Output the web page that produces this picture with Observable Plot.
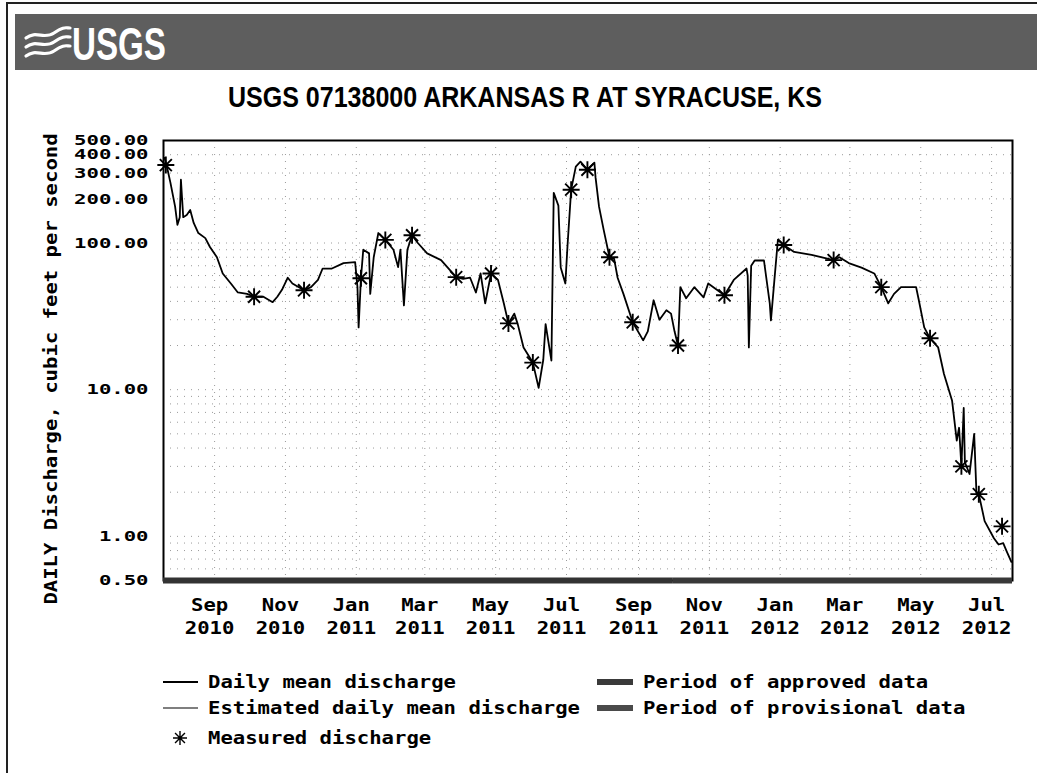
<!DOCTYPE html>
<html><head><meta charset="utf-8">
<script src="https://cdn.jsdelivr.net/npm/d3@7"></script>
<script src="https://cdn.jsdelivr.net/npm/@observablehq/plot@0.6"></script>
<style>
html,body{margin:0;padding:0;background:#fff;}
#wrap{position:relative;width:1037px;height:773px;overflow:hidden;background:#fff;}
#chart{position:absolute;left:0;top:0;}
#overlay{position:absolute;left:0;top:0;}
</style></head>
<body><div id="wrap"><div id="chart"></div><svg id="overlay" width="1037" height="773"></svg></div>
<script>
// ---- data ----
const titleText = "USGS 07138000 ARKANSAS R AT SYRACUSE, KS";
const yLabelText = "DAILY Discharge, cubic feet per second";

const flowDates = ["2010-07-20","2010-07-22","2010-07-25","2010-07-29","2010-07-31","2010-08-02","2010-08-03","2010-08-05","2010-08-08","2010-08-11","2010-08-14","2010-08-18","2010-08-24","2010-08-28","2010-09-03","2010-09-08","2010-09-15","2010-09-21","2010-09-29","2010-10-05","2010-10-13","2010-10-21","2010-10-25","2010-10-29","2010-11-03","2010-11-07","2010-11-17","2010-11-23","2010-11-29","2010-12-03","2010-12-11","2010-12-21","2010-12-31","2011-01-02","2011-01-03","2011-01-05","2011-01-07","2011-01-12","2011-01-13","2011-01-16","2011-01-20","2011-01-26","2011-02-02","2011-02-06","2011-02-08","2011-02-11","2011-02-14","2011-02-18","2011-02-23","2011-03-03","2011-03-15","2011-03-28","2011-04-03","2011-04-09","2011-04-14","2011-04-18","2011-04-22","2011-04-27","2011-05-03","2011-05-08","2011-05-12","2011-05-17","2011-05-20","2011-05-25","2011-06-02","2011-06-07","2011-06-11","2011-06-13","2011-06-18","2011-06-20","2011-06-24","2011-06-26","2011-06-30","2011-07-02","2011-07-05","2011-07-09","2011-07-13","2011-07-19","2011-07-25","2011-07-26","2011-07-29","2011-08-02","2011-08-07","2011-08-11","2011-08-14","2011-08-19","2011-08-27","2011-09-05","2011-09-09","2011-09-14","2011-09-19","2011-09-25","2011-09-29","2011-10-02","2011-10-05","2011-10-07","2011-10-12","2011-10-19","2011-10-27","2011-10-31","2011-11-14","2011-11-22","2011-12-03","2011-12-04","2011-12-05","2011-12-07","2011-12-10","2011-12-18","2011-12-23","2011-12-24","2011-12-27","2011-12-30","2012-01-04","2012-01-13","2012-01-28","2012-02-16","2012-02-21","2012-02-29","2012-03-11","2012-03-22","2012-03-28","2012-04-03","2012-04-08","2012-04-14","2012-04-23","2012-04-27","2012-04-29","2012-05-04","2012-05-09","2012-05-16","2012-05-21","2012-05-28","2012-06-01","2012-06-03","2012-06-05","2012-06-07","2012-06-08","2012-06-12","2012-06-16","2012-06-18","2012-06-20","2012-06-25","2012-07-03","2012-07-07","2012-07-11","2012-07-14","2012-07-18"];
const flowValues = [380,330,257,177,133,150,270,150,155,168,137,117,108,94,80,62,53,46,45,43,43,39.5,43,48,58,53,47.6,50,56,67,67,73,74,50,26.6,57.5,90,85,45,80,117,105,90,68.5,90,37.6,90,113,100,85,76.5,58.5,57,58,46,62,38.8,62,56,38.8,28.3,33,28,19.4,15.3,10.3,16,28,15.8,220,180,68,53,100,231,332,359,316,353,280,177,123,80,78,58,45,28.8,21.7,25,40.7,30,34.8,33,25,20,50,42,50,42.6,53,44,56,67,60,19.4,70,76,76,38.8,29.7,56,105,97,87,83,76.5,80,73,68,62,50,38.8,45,50,50,50,42,26.6,22.4,19.4,12.8,8.4,4.5,5.5,3.0,7.5,3.2,2.66,5,1.94,1.94,1.27,0.97,0.88,0.9,0.79,0.67];

const measuredDates = ["2010-07-21","2010-10-05","2010-11-17","2011-01-05","2011-01-26","2011-02-18","2011-03-28","2011-04-27","2011-05-12","2011-06-02","2011-07-05","2011-07-19","2011-08-07","2011-08-27","2011-10-05","2011-11-14","2012-01-04","2012-02-16","2012-03-28","2012-05-09","2012-06-05","2012-06-20","2012-07-10"];
const measuredValues = [340,43,47.6,57.5,105,113,58.5,62,28.3,15.3,231,316,80,28.8,20,44,97,76.5,50,22.4,3.0,1.94,1.17];

const periodStatus = ["approved","provisional"];
const periodStart = ["2010-07-19","2011-10-01"];
const periodEnd = ["2011-10-01","2012-07-19"];

const xTickDates = ["2010-09-01","2010-11-01","2011-01-01","2011-03-01","2011-05-01","2011-07-01","2011-09-01","2011-11-01","2012-01-01","2012-03-01","2012-05-01","2012-07-01"];
const yTickValues = [0.5,1,10,100,200,300,400,500];
const yGridValues = [0.5,0.6,0.7,0.8,0.9,1,2,3,4,5,6,7,8,9,10,20,30,40,50,60,70,80,90,100,200,300,400,500];
const xDomain = ["2010-07-19","2012-07-19"];

const legendLeft = ["Daily mean discharge","Estimated daily mean discharge","Measured discharge"];
const legendRight = ["Period of approved data","Period of provisional data"];

// ---- tables ----
const flow = flowDates.map((d,i)=>({date:new Date(d), value:flowValues[i]}));
const measured = measuredDates.map((d,i)=>({date:new Date(d), value:measuredValues[i]}));
const periods = periodStatus.map((s,i)=>({status:s, start:new Date(periodStart[i]), end:new Date(periodEnd[i])}));
const ticks = xTickDates.map(d=>new Date(d));
const fmtY = d3.format(".2f");

// 8-armed asterisk symbol
const asterisk8 = {draw(ctx, size){ const r=Math.sqrt(size/Math.PI); for(let i=0;i<4;i++){const a=i*Math.PI/4, dx=r*Math.cos(a), dy=r*Math.sin(a); ctx.moveTo(-dx,-dy); ctx.lineTo(dx,dy);} }};

const FONT = "'DejaVu Sans Mono', monospace";
const ADV = 12.4;

const chart = Plot.plot({
  width: 1037, height: 650,
  marginLeft: 163, marginRight: 25, marginTop: 140, marginBottom: 70,
  style: {fontFamily: FONT, fontWeight: "bold", fontSize: "17px", color: "#000", background: "transparent", overflow: "visible"},
  x: {type: "utc", domain: xDomain.map(d=>new Date(d))},
  y: {type: "log", domain: [0.5, 500]},
  marks: [
    Plot.ruleY(yGridValues, {stroke: "#9a9a9a", strokeDasharray: "1,6"}),
    Plot.ruleX(ticks, {stroke: "#9a9a9a", strokeDasharray: "1,6"}),
    Plot.frame({stroke: "#000", strokeWidth: 2}),
    Plot.line(flow, {x: "date", y: "value", stroke: "#000", strokeWidth: 1.8}),
    Plot.dot(measured, {x: "date", y: "value", symbol: asterisk8, r: 8.5, stroke: "#000", fill: "none", strokeWidth: 1.9}),
    Plot.ruleY(periods.filter(p=>p.status==="approved"), {y: () => 0.5, x1: "start", x2: "end", stroke: "#333", strokeWidth: 6}),
    Plot.ruleY(periods.filter(p=>p.status==="provisional"), {y: () => 0.5, x1: "start", x2: "end", stroke: "#383838", strokeWidth: 6}),
    Plot.text(yTickValues, {y: d => d, text: d => fmtY(d), frameAnchor: "left", textAnchor: "end", dx: -15, fontSize: 14.5, fontWeight: "bold"}),
    Plot.axisY({ticks: [], tickSize: 0, label: null}),
    Plot.axisX({ticks: ticks, tickFormat: d3.utcFormat("%b"), tickSize: 0, tickPadding: 18, dx: -5, label: null}),
    Plot.axisX({ticks: ticks, tickFormat: d3.utcFormat("%Y"), tickSize: 0, tickPadding: 41, dx: -5, label: null})
  ]
});
d3.select(chart).selectAll('[aria-label$="tick label"] text, g[aria-label="text"] text').each(function(){
  const n = this.textContent.length;
  this.setAttribute("textLength", n*ADV);
  this.setAttribute("lengthAdjust", "spacingAndGlyphs");
});
document.getElementById("chart").appendChild(chart);

// ---- overlay: page frame, banner, title, y label, legend ----
const ov = d3.select("#overlay");
ov.append("path").attr("d","M7,773 V3 H1037").attr("fill","none").attr("stroke","#222").attr("stroke-width",2);
ov.append("rect").attr("x",15).attr("y",14).attr("width",1022).attr("height",56).attr("fill","#5e5e5e");
const wave = ov.append("g").attr("fill","none").attr("stroke","#fff").attr("stroke-width",3.2).attr("stroke-linecap","round");
wave.append("path").attr("d","M26,38 C36,30 44,40 54,33 S66,28 70,28");
wave.append("path").attr("d","M26,47 C36,39 44,49 54,42 S66,37 70,37");
wave.append("path").attr("d","M26,56 C36,48 44,58 54,51 S66,46 70,46");
ov.append("text").attr("x",72).attr("y",60).attr("textLength",94).attr("lengthAdjust","spacingAndGlyphs")
  .attr("font-family","'Liberation Sans Narrow','Liberation Sans',sans-serif").attr("font-weight","bold").attr("font-size",46).attr("fill","#fff").text("USGS");
ov.append("text").attr("x",525).attr("y",107).attr("text-anchor","middle").attr("textLength",594).attr("lengthAdjust","spacingAndGlyphs")
  .attr("font-family","'Liberation Sans Narrow','Liberation Sans',sans-serif").attr("font-weight","bold").attr("font-size",30).attr("fill","#000").text(titleText);
ov.append("text").attr("transform","translate(57,369) rotate(-90)").attr("text-anchor","middle")
  .attr("textLength", yLabelText.length*ADV).attr("lengthAdjust","spacingAndGlyphs")
  .attr("font-family",FONT).attr("font-weight","bold").attr("font-size",17).attr("fill","#000").text(yLabelText);
const lg = ov.append("g").attr("font-family",FONT).attr("font-weight","bold").attr("font-size",17).attr("fill","#000");
const rowsY = [682, 708, 738];
lg.append("line").attr("x1",163).attr("x2",198).attr("y1",rowsY[0]).attr("y2",rowsY[0]).attr("stroke","#000").attr("stroke-width",1.8);
lg.append("line").attr("x1",163).attr("x2",198).attr("y1",rowsY[1]).attr("y2",rowsY[1]).attr("stroke","#000").attr("stroke-width",1.1);
lg.append("path").attr("transform",`translate(180,${rowsY[2]})`).attr("d", d3.symbol(asterisk8, Math.PI*49)()).attr("fill","none").attr("stroke","#000").attr("stroke-width",1.4);
legendLeft.forEach((t,i)=>{
  lg.append("text").attr("x",208).attr("y",rowsY[i]+6).attr("textLength",t.length*ADV).attr("lengthAdjust","spacingAndGlyphs").text(t);
});
lg.append("rect").attr("x",597).attr("y",rowsY[0]-3).attr("width",36).attr("height",6).attr("fill","#3a3a3a");
lg.append("rect").attr("x",597).attr("y",rowsY[1]-3).attr("width",36).attr("height",6).attr("fill","#4a4a4a");
legendRight.forEach((t,i)=>{
  lg.append("text").attr("x",643).attr("y",rowsY[i]+6).attr("textLength",t.length*ADV).attr("lengthAdjust","spacingAndGlyphs").text(t);
});
</script>
</body></html>
